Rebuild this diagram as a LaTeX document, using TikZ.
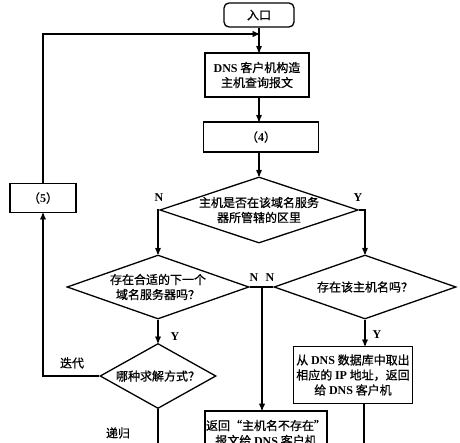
\documentclass[tikz,border=0pt]{standalone}
\usepackage{fontspec}
\setmainfont{Noto Sans CJK SC}[FakeBold=0.8]
\newfontfamily\lat{Liberation Serif}
\usetikzlibrary{shapes.geometric, arrows}
\newcommand{\en}[1]{{\lat\bfseries #1}}

\begin{document}
\begin{tikzpicture}[x=1pt,y=-1pt,->,>=stealth',line width=1.3pt,
  font=\fontsize{12}{15}\selectfont,
  box/.style={draw,rectangle,align=center,inner sep=0pt},
  choice/.style={draw,diamond,align=center,inner sep=0pt},
  tag/.style={font=\fontsize{12}{14}\selectfont\lat\bfseries,inner sep=0pt}]
\useasboundingbox (0,0) rectangle (460,442);
\clip (0,0) rectangle (460,442);

        \node[box,rounded corners=5pt,minimum width=70,minimum height=24] (entry) at (259,15) {入口};
        \node[box,minimum width=104,minimum height=44] (build) at (257,75) {\en{DNS} 客户机构造\\主机查询报文};
        \node[box,minimum width=115,minimum height=30] (four) at (261,137) {（\en{4}）};
        \node[choice,aspect=3,minimum width=192,minimum height=64] (zone) at (259,210) {主机是否在该域名服务\\器所管辖的区里};
        \node[choice,aspect=2.8,minimum width=182,minimum height=64] (next) at (158,287) {存在合适的下一个\\域名服务器吗？};
        \node[choice,aspect=2.8,minimum width=182,minimum height=64] (known) at (365,287) {存在该主机名吗？};
        \node[choice,aspect=1.8,minimum width=116,minimum height=65] (mode) at (158,376) {哪种求解方式？};
        \node[box,minimum width=66,minimum height=29] (five) at (43,198) {（\en{5}）};
        \node[box,minimum width=119,minimum height=57] (fetch) at (353,375) {从 \en{DNS} 数据库中取出\\相应的 \en{IP} 地址，返回\\给 \en{DNS} 客户机};
        \node[box,line width=2pt,minimum width=122,minimum height=44,anchor=north] (nohost) at (266,410) {返回“主机名不存在”\\报文给 \en{DNS} 客户机};

        % branch labels
        \node[tag] (n1) at (159,198) {N};
        \node[tag] (y1) at (358,198) {Y};
        \node[tag] (n2) at (254,278) {N};
        \node[tag] (n3) at (270,278) {N};
        \node[tag] (y2) at (175,337) {Y};
        \node[tag] (y3) at (377,335) {Y};
        \node (iter) at (72,363) {迭代};
        \node (recur) at (118,433) {递归};

        \coordinate (join) at (entry.south |- 0,34);
        \coordinate (split) at (262,287);
        \coordinate (out1) at (158,460);
        \coordinate (out2) at (364,460);

        \draw (entry.south) -- (entry.south |- build.north);
        \draw (build.south -| entry.south) -- (entry.south |- four.north);
        \draw (four.south -| zone.north) -- (zone.north);
        \draw (zone.west) -| (next.north);
        \draw (zone.east) -| (known.north);
        \draw[-] (next.east) -- (known.west);
        \draw (split) -- (split |- nohost.north);
        \draw (next) -- (mode);
        \draw (known.south) -- (known.south |- fetch.north);
        \draw (mode.west) -| (five.south);
        \draw (five.north) |- (join);
        \draw[-] (mode.south) -- (out1);
        \draw[-] (out2 |- fetch.south) -- (out2);
\end{tikzpicture}
\end{document}
